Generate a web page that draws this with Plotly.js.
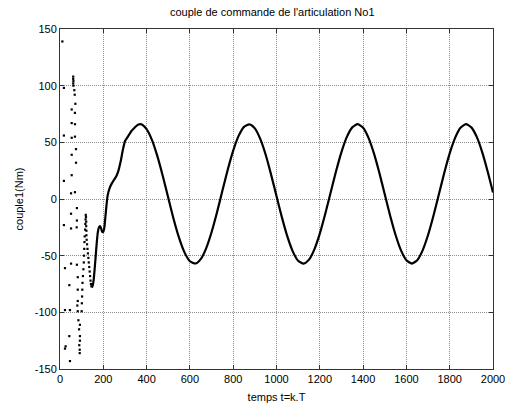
<!DOCTYPE html>
<html>
<head>
<meta charset="utf-8">
<script src="https://cdn.plot.ly/plotly-3.0.1.min.js"></script>
<style>html,body{margin:0;padding:0;background:#fff;}#chart{width:507px;height:410px;}</style>
</head>
<body>
<div id="chart"></div>
<script>
// Early transient samples (scattered dots)
var dotsT = [11,18,18,18,18,23,23,23,26,43,43,46,46,51,51,51,51,54,54,54,54,54,
  61,61,62,61,62,66,68,71,69,69,69,74,74,69,78,78,77,78,82,82,82,80,82,85,92,88,92,92,89,91,91,
  100,101,102,103,104,106,108,110,111,112,113,114,116,117,118,119,
  120,121,121,122,122,123,125,127,129,131,133,135,137,139,141,143,145];
var dotsY = [139,98,56,16,-23,-61,-98,-132,-130,-76,-121,-98,-143,5,-13,-26,-57,79,67,54,39,21,
  108,106,104,102,100,96,92,84,76,66,55,44,32,6,-8,-19,-25,-58,-69,-80,-90,-94,-99,-107,-111,-115,-121,-125,-129,-133,-136,
  -99,-92,-86,-80,-74,-68,-62,-56,-50,-44,-38,-33,-27,-22,-18,-14,
  -16,-20,-24,-28,-32,-36,-40,-44,-48,-52,-56,-60,-64,-68,-72,-75,-77];

// Main response curve
var curveT = [146,150,155,160,165,170,175,180,185,190,195,200,205,210,215,220,230,240,250,260,270,280,290,300,310,320,330,340,350,360,
  375,400,425,450,475,500,525,550,575,600,625,650,675,700,725,750,775,800,825,850,
  875,900,925,950,975,1000,1025,1050,1075,1100,1125,1150,1175,1200,1225,1250,1275,1300,1325,1350,
  1375,1400,1425,1450,1475,1500,1525,1550,1575,1600,1625,1650,1675,1700,1725,1750,1775,1800,1825,1850,
  1875,1900,1925,1950,1975,2000];
var curveY = [-78,-77,-72,-62,-50,-38,-29,-25,-24,-26,-29,-29,-25,-15,-5,3,10,14,17,20,25,33,43,51,54,57,60,62,64,65.5,
  65.9,61.7,52.0,37.6,20.1,1.1,-17.8,-34.3,-47.1,-54.9,-56.9,-53.0,-43.5,-29.3,-11.9,7.2,26.0,42.7,55.7,63.7,
  65.9,62.3,53.0,39.0,21.5,2.6,-16.2,-33.0,-46.2,-54.5,-57.0,-53.5,-44.4,-30.6,-13.3,5.7,24.5,41.4,54.8,63.2,
  66.0,62.8,53.9,40.2,23.1,4.1,-14.8,-31.8,-45.3,-54.0,-57.0,-54.0,-45.3,-31.8,-14.8,4.1,23.1,40.2,53.9,62.8,
  66.0,63.2,54.8,41.4,24.5,5.7];

var xTicks = [0,200,400,600,800,1000,1200,1400,1600,1800,2000];
var yTicks = [-150,-100,-50,0,50,100,150];

var traces = [
  {x: dotsT, y: dotsY, type: 'scatter', mode: 'markers',
   marker: {color: '#000', size: 2.2, symbol: 'square'}, hoverinfo: 'skip'},
  {x: curveT, y: curveY, type: 'scatter', mode: 'lines',
   line: {color: '#000', width: 2.2, shape: 'spline', smoothing: 0.6}, hoverinfo: 'skip'}
];

var axisCommon = {
  showline: true, linecolor: '#333', linewidth: 1, mirror: 'ticks',
  ticks: 'inside', ticklen: 4, tickcolor: '#333',
  showgrid: true, gridcolor: '#8c8c8c', griddash: '1px,1px', gridwidth: 1,
  zeroline: false, tickfont: {family: 'Liberation Sans, Arial, sans-serif', size: 11, color: '#000'}
};

var layout = {
  width: 507, height: 410,
  margin: {l: 60, r: 14, t: 29, b: 41},
  paper_bgcolor: '#fff', plot_bgcolor: '#fff',
  showlegend: false,
  font: {family: 'Liberation Sans, Arial, sans-serif', size: 11, color: '#000'},
  title: {text: "couple de commande de l'articulation No1", font: {size: 11, color: '#000'},
          x: 0.537, xref: 'container', y: 0.971, yref: 'container', xanchor: 'center', yanchor: 'middle'},
  xaxis: Object.assign({}, axisCommon, {range: [0, 2000], tickvals: xTicks, ticktext: xTicks.map(String),
          title: {text: 'temps t=k.T', font: {size: 11}, standoff: 9}}),
  yaxis: Object.assign({}, axisCommon, {range: [-150, 150], tickvals: yTicks, ticktext: yTicks.map(String),
          title: {text: 'couple1(Nm)', font: {size: 11}, standoff: 8}})
};

Plotly.newPlot('chart', traces, layout, {displayModeBar: false, staticPlot: true});
</script>
</body>
</html>
